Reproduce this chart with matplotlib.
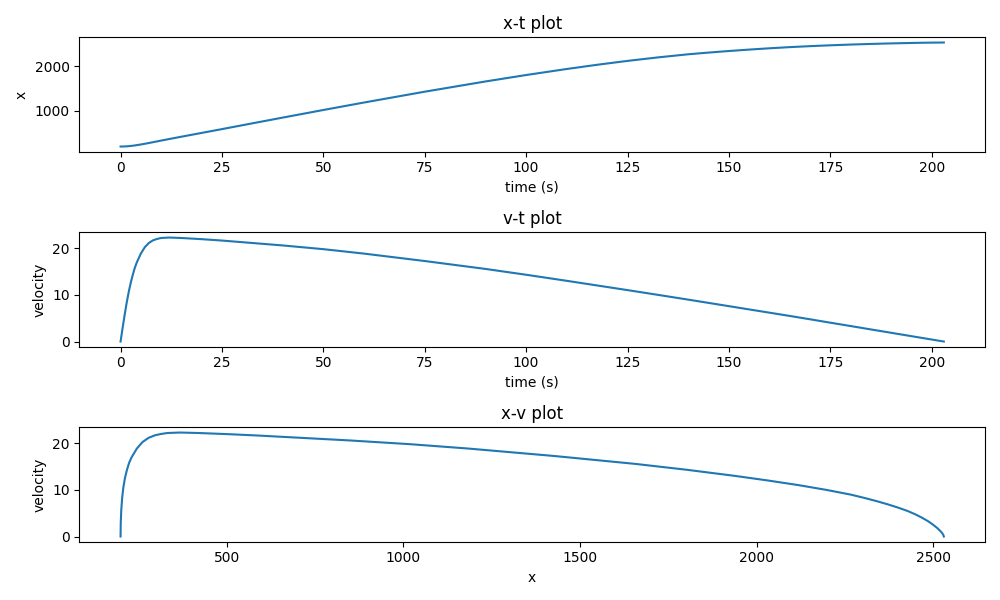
import matplotlib
matplotlib.use("Agg")
import matplotlib.pyplot as plt

time_s = [0, 0.5, 1, 1.5, 2, 2.5, 3, 3.5, 4, 5, 6, 7, 8, 9, 10, 12, 15, 20, 25, 30, 40,
          50, 60, 75, 90, 100, 110, 117.5, 125, 132.5, 140, 145, 150, 155, 160, 165, 170,
          175, 180, 185, 190, 195, 198, 200, 202, 203]
position = [200, 200.5, 202, 204.5, 208, 212.5, 218, 224, 231, 246, 262, 279, 297, 315,
            333, 368, 420, 505, 590, 676.5, 848.5, 1018.5, 1185.5, 1428.5, 1658, 1802,
            1937, 2031.5, 2118.5, 2197, 2267, 2305, 2340, 2372, 2401, 2427, 2449, 2468,
            2484.5, 2498.5, 2510.5, 2520.5, 2525.3, 2527.9, 2529.5, 2530]
velocity = [0, 2.9, 5.7, 8.3, 10.6, 12.6, 14.3, 15.8, 17.0, 18.9, 20.3, 21.2, 21.75,
            22.05, 22.25, 22.35, 22.25, 22.0, 21.7, 21.35, 20.65, 19.85, 18.9, 17.3, 15.6,
            14.35, 13.05, 12.05, 11.05, 10.03, 9.0, 8.3, 7.6, 6.9, 6.2, 5.5, 4.78, 4.05,
            3.33, 2.6, 1.88, 1.15, 0.72, 0.43, 0.14, 0]

fig, axes = plt.subplots(3, 1, figsize=(10, 6), dpi=100)

axes[0].plot(time_s, position)
axes[0].set_title("x-t plot")
axes[0].set_xlabel("time (s)")
axes[0].set_ylabel("x")

axes[1].plot(time_s, velocity)
axes[1].set_title("v-t plot")
axes[1].set_xlabel("time (s)")
axes[1].set_ylabel("velocity")

axes[2].plot(position, velocity)
axes[2].set_title("x-v plot")
axes[2].set_xlabel("x")
axes[2].set_ylabel("velocity")

fig.tight_layout()
fig.savefig("out.png")
